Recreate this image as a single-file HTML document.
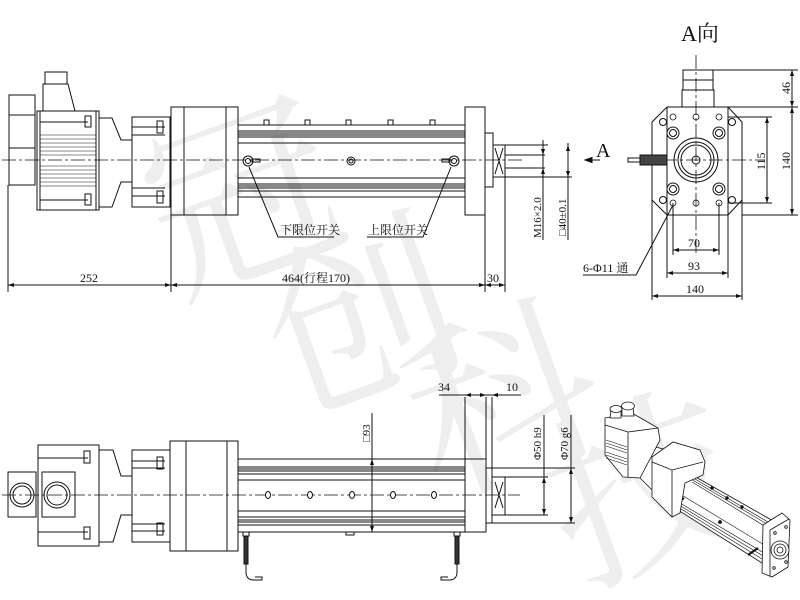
<!DOCTYPE html>
<html><head><meta charset="utf-8"><style>
html,body{margin:0;padding:0;background:#fff;}
svg{display:block;}
text{font-family:"Liberation Serif","Noto Serif CJK SC",serif;fill:#111;}
</style></head><body>
<svg width="800" height="600" viewBox="0 0 800 600" xmlns="http://www.w3.org/2000/svg">
<!-- watermark -->
<g font-family="Noto Sans CJK SC, sans-serif">
<text x="140" y="270" font-size="190" style="fill:#eeeeee" transform="rotate(-20 230 180)">冠</text>
<text x="260" y="390" font-size="190" style="fill:#eeeeee" transform="rotate(-20 350 300)">创</text>
<text x="400" y="470" font-size="190" style="fill:#eeeeee" transform="rotate(-20 490 380)">科</text>
<text x="540" y="560" font-size="190" style="fill:#eeeeee" transform="rotate(-20 630 470)">技</text>
</g>
<g fill="none" stroke="#111" stroke-width="1">
<!-- ===== TOP VIEW ===== -->
<line x1="2" y1="160" x2="525" y2="160" stroke-dasharray="14 3 3 3" stroke-width="0.8"/>
<rect x="9" y="95" width="26" height="20"/>
<rect x="9" y="115" width="26" height="70"/>
<line x1="9" y1="148" x2="35" y2="148"/>
<rect x="45" y="72" width="22" height="12"/>
<path d="M43 84 H68 L75 111 H43 Z"/>
<rect x="37" y="111" width="62" height="99"/>
<rect x="40" y="111" width="56" height="99"/>
<g stroke-width="0.6">
<line x1="40" y1="135" x2="96" y2="135"/><line x1="40" y1="139" x2="96" y2="139"/><line x1="40" y1="143" x2="96" y2="143"/><line x1="40" y1="147" x2="96" y2="147"/><line x1="40" y1="151" x2="96" y2="151"/><line x1="40" y1="155" x2="96" y2="155"/>
<line x1="40" y1="166" x2="96" y2="166"/><line x1="40" y1="170" x2="96" y2="170"/><line x1="40" y1="174" x2="96" y2="174"/><line x1="40" y1="178" x2="96" y2="178"/><line x1="40" y1="182" x2="96" y2="182"/><line x1="40" y1="186" x2="96" y2="186"/>
</g>
<line x1="40" y1="122" x2="88" y2="122"/><line x1="40" y1="200" x2="88" y2="200"/>
<rect x="85" y="116" width="6" height="11"/><rect x="85" y="194" width="6" height="11"/>
<path d="M99 118 H112 L121 140 H132 V118 M99 207 H112 L121 182 H132 V207"/>
<rect x="132" y="117" width="38" height="90"/>
<line x1="132" y1="127" x2="165" y2="127"/><line x1="132" y1="135" x2="165" y2="135"/>
<line x1="132" y1="188" x2="165" y2="188"/><line x1="132" y1="196" x2="165" y2="196"/>
<rect x="157" y="121" width="6" height="12"/><rect x="157" y="191" width="6" height="12"/>
<rect x="171" y="107" width="67" height="108"/>
<line x1="184" y1="107" x2="184" y2="215"/><line x1="226" y1="107" x2="226" y2="215"/>
<rect x="238" y="125" width="227" height="72"/>
<g stroke-width="0.9">
<line x1="238" y1="131" x2="465" y2="131"/><line x1="238" y1="133" x2="465" y2="133"/><line x1="238" y1="135" x2="465" y2="135"/><line x1="238" y1="137" x2="465" y2="137"/><line x1="238" y1="143" x2="465" y2="143"/>
<line x1="238" y1="178" x2="465" y2="178"/><line x1="238" y1="184" x2="465" y2="184"/><line x1="238" y1="186" x2="465" y2="186"/><line x1="238" y1="188" x2="465" y2="188"/><line x1="238" y1="191" x2="465" y2="191"/>
</g>
<g fill="#fff"><rect x="264" y="120" width="5" height="5"/><rect x="305" y="120" width="5" height="5"/><rect x="346" y="120" width="5" height="5"/><rect x="388" y="120" width="5" height="5"/><rect x="430" y="120" width="5" height="5"/></g>
<circle cx="248" cy="161" r="5"/><circle cx="248" cy="161" r="2.5"/>
<circle cx="351" cy="161" r="4"/><circle cx="351" cy="161" r="2"/>
<circle cx="454" cy="161" r="5"/><circle cx="454" cy="161" r="2.5"/>
<rect x="252" y="159" width="8" height="3"/><rect x="442" y="159" width="8" height="3"/>
<path d="M249 167 L278 237 H334"/><path d="M451 167 L423 237 H367"/>
<rect x="465" y="107" width="20" height="108"/>
<rect x="485" y="133" width="8" height="54"/>
<rect x="493" y="145" width="12" height="32"/>
<path d="M495 148 L503 174 M503 148 L495 174"/>
<line x1="505" y1="145" x2="548" y2="145"/><line x1="505" y1="155" x2="545" y2="155"/><line x1="505" y1="168" x2="545" y2="168"/><line x1="505" y1="177" x2="572" y2="177"/>
<line x1="485" y1="187" x2="485" y2="292"/><line x1="505" y1="177" x2="505" y2="292"/>
<line x1="543" y1="140" x2="543" y2="240"/><line x1="568" y1="143" x2="568" y2="240"/>
<line x1="8" y1="185" x2="8" y2="292"/><line x1="171" y1="215" x2="171" y2="292"/>
<line x1="8" y1="285" x2="505" y2="285"/>
<!-- ===== RIGHT VIEW ===== -->
<line x1="696" y1="55" x2="696" y2="255" stroke-dasharray="14 3 3 3" stroke-width="0.8"/>
<line x1="640" y1="160" x2="765" y2="160" stroke-dasharray="14 3 3 3" stroke-width="0.8"/>
<rect x="683" y="70" width="30" height="20"/><line x1="683" y1="80" x2="713" y2="80"/>
<rect x="682" y="90" width="32" height="17"/>
<path d="M667 107 H728 L742 122 V200 L728 215 H667 L652 200 V122 Z"/>
<rect x="667" y="107" width="61" height="108"/>
<circle cx="696" cy="160" r="22"/><circle cx="696" cy="160" r="18"/><circle cx="696" cy="160" r="15"/><circle cx="696" cy="160" r="4"/>
<circle cx="673" cy="133" r="6"/><circle cx="673" cy="133" r="3.5"/><circle cx="719" cy="133" r="6"/><circle cx="719" cy="133" r="3.5"/>
<circle cx="673" cy="189" r="6"/><circle cx="673" cy="189" r="3.5"/><circle cx="719" cy="189" r="6"/><circle cx="719" cy="189" r="3.5"/>
<circle cx="663" cy="122" r="3.5"/><circle cx="732" cy="122" r="3.5"/><circle cx="663" cy="200" r="3.5"/><circle cx="732" cy="200" r="3.5"/>
<g stroke-width="0.8"><circle cx="673" cy="117" r="3"/><circle cx="696" cy="117" r="3"/><circle cx="719" cy="117" r="3"/><circle cx="673" cy="203" r="3"/><circle cx="696" cy="203" r="3"/><circle cx="719" cy="203" r="3"/></g>
<rect x="640" y="155" width="27" height="10" fill="#444"/>
<rect x="628" y="158" width="12" height="4"/>
<path d="M583 275 H636 L673 205"/>
<line x1="585" y1="160" x2="600" y2="160"/><path d="M585 160 L592 157.5 L592 162.5 Z" fill="#111"/>
<line x1="713" y1="70" x2="798" y2="70"/><line x1="728" y1="107" x2="798" y2="107"/><line x1="742" y1="215" x2="798" y2="215"/>
<line x1="792" y1="70" x2="792" y2="215"/>
<line x1="728" y1="117" x2="772" y2="117"/><line x1="728" y1="203" x2="772" y2="203"/><line x1="767" y1="117" x2="767" y2="203"/>
<line x1="673" y1="203" x2="673" y2="255"/><line x1="719" y1="203" x2="719" y2="255"/><line x1="673" y1="250" x2="719" y2="250"/>
<line x1="667" y1="215" x2="667" y2="278"/><line x1="728" y1="215" x2="728" y2="278"/><line x1="667" y1="273" x2="728" y2="273"/>
<line x1="652" y1="200" x2="652" y2="300"/><line x1="742" y1="200" x2="742" y2="300"/><line x1="652" y1="296" x2="742" y2="296"/>
<!-- ===== BOTTOM VIEW ===== -->
<line x1="2" y1="495" x2="520" y2="495" stroke-dasharray="14 3 3 3" stroke-width="0.8"/>
<rect x="8" y="472" width="28" height="45"/><circle cx="22" cy="495" r="12"/><circle cx="22" cy="495" r="9"/>
<rect x="42" y="472" width="33" height="45"/><circle cx="57" cy="495" r="13"/><circle cx="57" cy="495" r="10"/>
<rect x="38" y="445" width="61" height="101"/>
<line x1="38" y1="458" x2="88" y2="458"/><line x1="38" y1="532" x2="88" y2="532"/>
<rect x="84" y="451" width="6" height="12"/><rect x="84" y="527" width="6" height="12"/>
<path d="M99 450 H113 L121 476 H132 V450 M99 542 H113 L121 515 H132 V542"/>
<rect x="132" y="450" width="38" height="92"/>
<line x1="132" y1="461" x2="165" y2="461"/><line x1="132" y1="468" x2="165" y2="468"/>
<line x1="132" y1="524" x2="165" y2="524"/><line x1="132" y1="531" x2="165" y2="531"/>
<rect x="157" y="457" width="6" height="12"/><rect x="157" y="523" width="6" height="12"/>
<rect x="170" y="441" width="68" height="110"/>
<line x1="186" y1="441" x2="186" y2="551"/><line x1="227" y1="441" x2="227" y2="551"/>
<rect x="238" y="459" width="227" height="73"/>
<g stroke-width="0.9">
<line x1="238" y1="467" x2="465" y2="467"/><line x1="238" y1="469" x2="465" y2="469"/><line x1="238" y1="471" x2="465" y2="471"/><line x1="238" y1="474" x2="465" y2="474"/><line x1="238" y1="480" x2="465" y2="480"/>
<line x1="238" y1="511" x2="465" y2="511"/><line x1="238" y1="517" x2="465" y2="517"/><line x1="238" y1="520" x2="465" y2="520"/><line x1="238" y1="522" x2="465" y2="522"/><line x1="238" y1="525" x2="465" y2="525"/>
</g>
<g fill="#fff"><ellipse cx="268" cy="495" rx="2.5" ry="3.5"/><ellipse cx="310" cy="495" rx="2.5" ry="3.5"/><ellipse cx="352" cy="495" rx="2.5" ry="3.5"/><ellipse cx="393" cy="495" rx="2.5" ry="3.5"/><ellipse cx="434" cy="495" rx="2.5" ry="3.5"/></g>
<rect x="346" y="532" width="8" height="3"/>
<rect x="465" y="459" width="21" height="73"/>
<rect x="486" y="468" width="6" height="55"/>
<rect x="492" y="477" width="13" height="38"/>
<path d="M495 482 L503 508 M503 482 L495 508"/>
<line x1="505" y1="477" x2="548" y2="477"/><line x1="505" y1="515" x2="548" y2="515"/>
<line x1="492" y1="468" x2="575" y2="468"/><line x1="492" y1="523" x2="575" y2="523"/>
<line x1="544" y1="415" x2="544" y2="515"/><line x1="571" y1="415" x2="571" y2="523"/>
<line x1="372" y1="413" x2="372" y2="532"/>
<line x1="465" y1="397" x2="465" y2="459"/><line x1="486" y1="397" x2="486" y2="468"/><line x1="492" y1="397" x2="492" y2="468"/>
<line x1="439" y1="395" x2="521" y2="395"/>
<rect x="243" y="532" width="6" height="4"/><rect x="454" y="532" width="6" height="4"/>
<rect x="244" y="536" width="4" height="28" fill="#333"/><rect x="455" y="536" width="4" height="28" fill="#333"/>
<path d="M246 564 V572 Q246 580 254 580 H262 V577 H255"/><path d="M457 564 V572 Q457 580 449 580 H441 V577 H448"/>
<!-- ===== 3D view ===== -->
<g stroke-width="0.8" fill="#fff">
<!-- tube -->
<path d="M687 472 L775 522 L762 563 L670 505 Z"/>
<g fill="none" stroke-width="0.6">
<line x1="690" y1="476" x2="773" y2="525"/><line x1="691" y1="479" x2="772" y2="527"/><line x1="692" y1="482" x2="771" y2="530"/>
<line x1="680" y1="494" x2="766" y2="546"/>
<line x1="675" y1="500" x2="764" y2="553"/><line x1="674" y1="502" x2="763" y2="556"/><line x1="673" y1="504" x2="762" y2="559"/>
</g>
<circle cx="712" cy="488" r="1.3" fill="#111"/><circle cx="727" cy="498" r="1.3" fill="#111"/><circle cx="742" cy="507" r="1.3" fill="#111"/><circle cx="720" cy="522" r="1.5" fill="#111"/>
<line x1="674" y1="505" x2="684" y2="498" stroke-width="2.2"/>
<line x1="748" y1="555" x2="758" y2="548" stroke-width="2.2"/>
<!-- end plate -->
<path d="M763 525 L782 513 L790 520 L788 567 L772 577 L762 573 Z"/>
<path d="M770 530 L789 519 M770 530 L770 576"/>
<circle cx="780" cy="550" r="9"/><circle cx="780" cy="550" r="6"/><circle cx="780" cy="550" r="3"/>
<circle cx="775" cy="533" r="1.3"/><circle cx="786" cy="527" r="1.3"/><circle cx="774" cy="568" r="1.3"/><circle cx="786" cy="562" r="1.3"/>
<!-- adapter -->
<path d="M640 443 L667 450 L670 487 L652 490 L640 478 Z"/>
<!-- motor -->
<path d="M605 418 L632 413 L658 428 L660 440 L640 478 L623 477 L605 455 Z"/>
<path d="M605 425 L628 432 L658 428 M628 432 L628 477"/>
<g fill="none" stroke-width="0.6"><line x1="606" y1="440" x2="627" y2="447"/><line x1="606" y1="443" x2="627" y2="450"/><line x1="606" y1="446" x2="627" y2="453"/><line x1="606" y1="452" x2="627" y2="459"/><line x1="606" y1="455" x2="627" y2="462"/><line x1="606" y1="458" x2="627" y2="465"/></g>
<path d="M610 418 L611 410 L621 410 L621 418 Z"/><ellipse cx="616" cy="409" rx="6" ry="3.5"/>
<path d="M622 416 L622 407 L633 407 L634 416 Z"/><ellipse cx="628" cy="406" rx="6.5" ry="4"/>
<!-- gearbox block -->
<path d="M652 457 L673 442 L700 450 L705 462 L703 475 L685 483 L680 513 L672 517 L652 497 Z"/>
<path d="M652 462 L672 470 L703 462 M672 470 L672 517"/>
</g>
</g>
<!-- arrowheads -->
<g fill="#111">
<path d="M8 285 l6 -2 v4 z"/><path d="M171 285 l-6 -2 v4 z"/><path d="M171 285 l6 -2 v4 z"/><path d="M485 285 l-6 -2 v4 z"/><path d="M485 285 l6 -2 v4 z"/><path d="M505 285 l-6 -2 v4 z"/>
<path d="M543 155 l-2 -6 h4 z"/><path d="M543 168 l-2 6 h4 z"/><path d="M568 145 l-2 6 h4 z"/><path d="M568 177 l-2 -6 h4 z"/>
<path d="M792 70 l-2 6 h4 z"/><path d="M792 107 l-2 -6 h4 z"/><path d="M792 107 l-2 6 h4 z"/><path d="M792 215 l-2 -6 h4 z"/>
<path d="M767 117 l-2 6 h4 z"/><path d="M767 203 l-2 -6 h4 z"/>
<path d="M673 250 l6 -2 v4 z"/><path d="M719 250 l-6 -2 v4 z"/><path d="M667 273 l6 -2 v4 z"/><path d="M728 273 l-6 -2 v4 z"/><path d="M652 296 l6 -2 v4 z"/><path d="M742 296 l-6 -2 v4 z"/>
<path d="M372 459 l-2 6 h4 z"/><path d="M372 532 l-2 -6 h4 z"/>
<path d="M465 395 l6 -2 v4 z"/><path d="M486 395 l-6 -2 v4 z"/><path d="M492 395 l6 -2 v4 z"/>
<path d="M544 477 l-2 6 h4 z"/><path d="M544 515 l-2 -6 h4 z"/><path d="M571 468 l-2 6 h4 z"/><path d="M571 523 l-2 -6 h4 z"/>
</g>
<text x="80" y="282" font-size="12">252</text>
<text x="282" y="282" font-size="12">464(行程170)</text>
<text x="487" y="282" font-size="12">30</text>
<text x="280" y="234" font-size="12">下限位开关</text>
<text x="368" y="234" font-size="12">上限位开关</text>
<text font-size="11" transform="translate(541 238) rotate(-90)">M16×2.0</text>
<text font-size="11" transform="translate(566 236) rotate(-90)">□40±0.1</text>
<text x="681" y="41" font-size="22">A向</text>
<text x="596" y="157" font-size="20">A</text>
<text x="583" y="272" font-size="12">6-Φ11 通</text>
<text font-size="12" transform="translate(790 94) rotate(-90)">46</text>
<text font-size="12" transform="translate(790 170) rotate(-90)">140</text>
<text font-size="12" transform="translate(765 170) rotate(-90)">115</text>
<text x="688" y="247" font-size="12">70</text>
<text x="688" y="270" font-size="12">93</text>
<text x="686" y="293" font-size="12">140</text>
<text x="438" y="391" font-size="12">34</text>
<text x="506" y="391" font-size="12">10</text>
<text font-size="11" transform="translate(370 442) rotate(-90)">□93</text>
<text font-size="11" transform="translate(541 460) rotate(-90)">Φ50 h9</text>
<text font-size="11" transform="translate(568 460) rotate(-90)">Φ70 g6</text>
</svg>
</body></html>
